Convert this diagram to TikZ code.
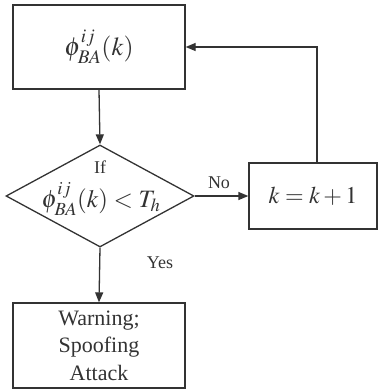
\documentclass[tikz,border=0pt]{standalone}
\usepackage{mathptmx}
\usepackage[no-math]{fontspec}
\setmainfont{Liberation Serif}
\usetikzlibrary{arrows.meta,shapes.geometric}
\definecolor{ink}{HTML}{333333}
\tikzset{
  boxnode/.style={draw=ink, line width=1.3pt, rectangle, inner sep=0pt, text=ink, align=center},
  arr/.style={draw=ink, line width=1.3pt, -{Triangle[length=10pt,width=8pt]}},
  bigtxt/.style={font=\fontsize{22}{27.5}\selectfont},
  mathtxt/.style={font=\fontsize{26}{30}\selectfont},
  smalltxt/.style={font=\fontsize{18}{20}\selectfont, text=ink},
}
\begin{document}
\begin{tikzpicture}[x=1pt,y=-1pt]
\useasboundingbox (0,0) rectangle (378,391);
\node[boxnode, mathtxt, minimum width=172pt, minimum height=84pt] (tb) at (99,47) {$\phi^{ij}_{BA}(k)$};
\node[draw=ink, line width=1.3pt, diamond, minimum width=188pt, minimum height=102pt, inner sep=0pt, shape aspect=1.84] (d) at (100,196) {};
\node[smalltxt, inner sep=0pt] (dif) at (100,167) {If};
\node[font=\fontsize{25}{28}\selectfont, text=ink, inner sep=0pt] (dform) at (101,199) {$\phi^{ij}_{BA}(k) < T_h$};
\node[boxnode, font=\fontsize{24}{28}\selectfont, minimum width=128pt, minimum height=66pt] (kb) at (313,196) {$k=k+1$};
\node[boxnode, bigtxt, minimum width=172pt, minimum height=85pt] (bb) at (99,345.5) {Warning;\\Spoofing\\Attack};
\coordinate (kt) at ([xshift=4pt]kb.north);
\draw[arr] (tb.south) -- (d.north);
\draw[arr] (d.east) -- (kb.west);
\draw[arr] (d.south) -- (bb.north);
\draw[arr] (kt) |- (tb.east);
\node[smalltxt] (no) at (219,183) {No};
\node[smalltxt] (yes) at (160,263) {Yes};
\end{tikzpicture}
\end{document}
